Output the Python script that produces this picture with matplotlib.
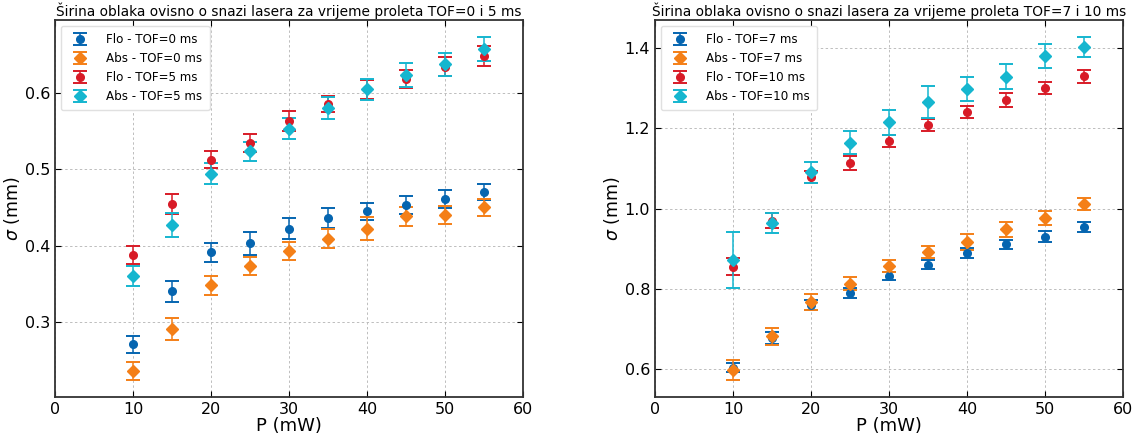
import matplotlib
matplotlib.use('Agg')
import matplotlib.pyplot as plt

# snaga lasera (mW)
P = [10, 15, 20, 25, 30, 35, 40, 45, 50, 55]

# TOF = 0 i 5 ms
flo0 = [0.271, 0.340, 0.391, 0.403, 0.422, 0.436, 0.445, 0.453, 0.461, 0.470]
flo0_err = [0.011, 0.014, 0.012, 0.015, 0.014, 0.013, 0.011, 0.012, 0.012, 0.011]
abs0 = [0.236, 0.291, 0.348, 0.373, 0.393, 0.409, 0.422, 0.438, 0.440, 0.450]
abs0_err = [0.012, 0.014, 0.012, 0.012, 0.012, 0.012, 0.015, 0.012, 0.012, 0.011]
flo5 = [0.388, 0.454, 0.512, 0.534, 0.563, 0.585, 0.604, 0.618, 0.634, 0.648]
flo5_err = [0.012, 0.013, 0.011, 0.012, 0.013, 0.011, 0.012, 0.012, 0.012, 0.013]
abs5 = [0.360, 0.427, 0.494, 0.523, 0.553, 0.580, 0.604, 0.623, 0.637, 0.657]
abs5_err = [0.013, 0.016, 0.014, 0.013, 0.014, 0.014, 0.014, 0.016, 0.015, 0.016]

# TOF = 7 i 10 ms
flo7 = [0.603, 0.678, 0.760, 0.789, 0.832, 0.860, 0.889, 0.911, 0.930, 0.954]
flo7_err = [0.011, 0.015, 0.012, 0.012, 0.011, 0.011, 0.012, 0.012, 0.014, 0.012]
abs7 = [0.598, 0.681, 0.768, 0.813, 0.857, 0.891, 0.916, 0.948, 0.976, 1.011]
abs7_err = [0.025, 0.021, 0.020, 0.017, 0.015, 0.015, 0.020, 0.019, 0.018, 0.015]
flo10 = [0.855, 0.970, 1.079, 1.114, 1.169, 1.208, 1.240, 1.271, 1.300, 1.330]
flo10_err = [0.021, 0.019, 0.014, 0.017, 0.016, 0.015, 0.015, 0.017, 0.015, 0.016]
abs10 = [0.872, 0.965, 1.091, 1.165, 1.215, 1.265, 1.299, 1.329, 1.382, 1.403]
abs10_err = [0.070, 0.025, 0.026, 0.029, 0.032, 0.040, 0.030, 0.031, 0.030, 0.025]

c_blue, c_orange, c_red, c_cyan = '#0565b0', '#f47f17', '#d81b27', '#15b6cf'

fig = plt.figure(figsize=(11.37, 4.38), dpi=100)
ax1 = fig.add_axes([0.0484, 0.0936, 0.4116, 0.861])
ax2 = fig.add_axes([0.5761, 0.0936, 0.4116, 0.861])


def crtaj(ax, serije, naslov, ylim, yticks):
    for y, e, c, m, lab in serije:
        ax.errorbar(P, y, yerr=e, fmt=m, color=c, ecolor=c, elinewidth=1.1,
                    capsize=5, capthick=1.4, markersize=6.5 if m == 'D' else 5.5,
                    label=lab)
    ax.set_xlim(0, 60)
    ax.set_ylim(*ylim)
    ax.set_xticks(range(0, 61, 10))
    ax.set_yticks(yticks)
    ax.grid(True, linestyle=(0, (2.5, 2.5)), color='#bdbdbd', linewidth=0.7)
    ax.tick_params(direction='in', top=True, right=True, labelsize=11.5, length=4)
    for s in ax.spines.values():
        s.set_color('#333333')
        s.set_linewidth(1.3)
    ax.set_xlabel('P (mW)', fontsize=13, labelpad=0)
    ax.set_ylabel(r'$\sigma$ (mm)', fontsize=12.5, labelpad=2)
    ax.set_title(naslov, fontsize=9.9, pad=3)
    ax.legend(loc='upper left', fontsize=8.6, borderpad=0.6, labelspacing=0.5,
              handletextpad=1.2, framealpha=1, edgecolor='#e0e0e0')


crtaj(ax1, [(flo0, flo0_err, c_blue, 'o', 'Flo - TOF=0 ms'),
            (abs0, abs0_err, c_orange, 'D', 'Abs - TOF=0 ms'),
            (flo5, flo5_err, c_red, 'o', 'Flo - TOF=5 ms'),
            (abs5, abs5_err, c_cyan, 'D', 'Abs - TOF=5 ms')],
      'Širina oblaka ovisno o snazi lasera za vrijeme proleta TOF=0 i 5 ms',
      (0.202, 0.695), [0.3, 0.4, 0.5, 0.6])

crtaj(ax2, [(flo7, flo7_err, c_blue, 'o', 'Flo - TOF=7 ms'),
            (abs7, abs7_err, c_orange, 'D', 'Abs - TOF=7 ms'),
            (flo10, flo10_err, c_red, 'o', 'Flo - TOF=10 ms'),
            (abs10, abs10_err, c_cyan, 'D', 'Abs - TOF=10 ms')],
      'Širina oblaka ovisno o snazi lasera za vrijeme proleta TOF=7 i 10 ms',
      (0.530, 1.471), [0.6, 0.8, 1.0, 1.2, 1.4])

plt.savefig('out.png', dpi=100)
plt.close()
